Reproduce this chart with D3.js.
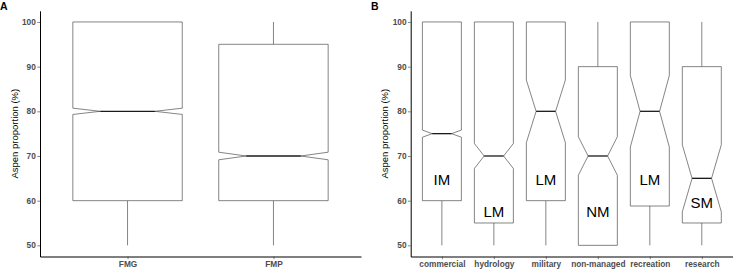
<!DOCTYPE html>
<html>
<head>
<meta charset="utf-8">
<script src="https://cdn.jsdelivr.net/npm/d3@7"></script>
<style>
  body { margin: 0; background: #fff; }
  svg { font-family: "Liberation Sans", Arial, sans-serif; }
</style>
</head>
<body>
<div id="chart"></div>
<script>
// panel A data
var groupsA = ["FMG", "FMP"];
var minA = [50, 50];
var q1A = [60, 60];
var medA = [80, 70];
var q3A = [100, 95];
var maxA = [100, 100];
var notchLoA = [79.3, 69.15];
var notchHiA = [80.7, 70.85];

// panel B data
var groupsB = ["commercial", "hydrology", "military", "non-managed", "recreation", "research"];
var minB = [50, 50, 50, 50, 50, 50];
var q1B = [60, 55, 60, 50, 58.8, 55];
var medB = [75, 70, 80, 70, 80, 65];
var q3B = [100, 100, 100, 90, 100, 90];
var maxB = [100, 100, 100, 100, 100, 100];
var notchLoB = [74.2, 67.2, 73, 65.7, 72, 57.5];
var notchHiB = [75.8, 72.8, 87, 74.3, 88, 72.5];
var lettersB = ["IM", "LM", "LM", "NM", "LM", "SM"];
var letterYB = [64.7, 57.6, 64.7, 57.6, 64.7, 59.6];

var yTicks = [50, 60, 70, 80, 90, 100];

var W = 733, H = 270;
var top1 = 10.8, bottom1 = 256.5;

var svg = d3.select("#chart").append("svg")
    .attr("width", W)
    .attr("height", H);

function drawPanel(opt) {
    var y = d3.scaleLinear()
        .domain([47.5, 102.5])
        .range([bottom1, top1]);

    var x = d3.scalePoint()
        .domain(opt.groups)
        .range([opt.x0, opt.x1])
        .padding(0.6);

    var bw = x.step() * 0.75;
    var g = svg.append("g");

    // whiskers
    opt.groups.forEach(function (d, i) {
        var cx = x(d);
        if (opt.max[i] > opt.q3[i]) {
            g.append("line")
                .attr("x1", cx).attr("x2", cx)
                .attr("y1", y(opt.q3[i])).attr("y2", y(opt.max[i]))
                .attr("stroke", "#333").attr("stroke-width", 0.6);
        }
        if (opt.min[i] < opt.q1[i]) {
            g.append("line")
                .attr("x1", cx).attr("x2", cx)
                .attr("y1", y(opt.q1[i])).attr("y2", y(opt.min[i]))
                .attr("stroke", "#333").attr("stroke-width", 0.6);
        }
    });

    // notched boxes
    opt.groups.forEach(function (d, i) {
        var xl = x(d) - bw / 2, xr = x(d) + bw / 2, inset = bw * 0.25;
        var pts = [
            [xl, y(opt.q3[i])],
            [xl, y(opt.hi[i])],
            [xl + inset, y(opt.med[i])],
            [xl, y(opt.lo[i])],
            [xl, y(opt.q1[i])],
            [xr, y(opt.q1[i])],
            [xr, y(opt.lo[i])],
            [xr - inset, y(opt.med[i])],
            [xr, y(opt.hi[i])],
            [xr, y(opt.q3[i])]
        ];
        g.append("path")
            .attr("d", d3.line()(pts) + "Z")
            .attr("fill", "#fff")
            .attr("stroke", "#333")
            .attr("stroke-width", 0.6);

        g.append("line")
            .attr("x1", xl + inset).attr("x2", xr - inset)
            .attr("y1", y(opt.med[i])).attr("y2", y(opt.med[i]))
            .attr("stroke", "#1a1a1a")
            .attr("stroke-width", 1.3);
    });

    // group letters
    if (opt.letters) {
        opt.groups.forEach(function (d, i) {
            g.append("text")
                .attr("x", x(d))
                .attr("y", y(opt.letterY[i]))
                .attr("text-anchor", "middle")
                .attr("dominant-baseline", "central")
                .attr("font-size", 15)
                .attr("fill", "#000")
                .text(opt.letters[i]);
        });
    }

    // axes
    var yAxis = g.append("g")
        .attr("transform", "translate(" + opt.x0 + ",0)")
        .call(d3.axisLeft(y).tickValues(yTicks).tickSize(2.7).tickSizeOuter(0).tickPadding(1.5));
    var xAxis = g.append("g")
        .attr("transform", "translate(0," + bottom1 + ")")
        .call(d3.axisBottom(x).tickSize(2.7).tickSizeOuter(0).tickPadding(1.5));

    [yAxis, xAxis].forEach(function (ax) {
        ax.select(".domain").attr("stroke", "#000").attr("stroke-width", 1);
        ax.selectAll(".tick line").attr("stroke", "#333").attr("stroke-width", 0.6);
        ax.selectAll(".tick text")
            .attr("font-family", "Liberation Sans, Arial, sans-serif")
            .attr("font-size", 8.3)
            .attr("font-weight", "bold")
            .attr("fill", "#4d4d4d");
    });

    // axis title
    g.append("text")
        .attr("transform", "translate(" + opt.titleX + "," + ((top1 + bottom1) / 2) + ") rotate(-90)")
        .attr("text-anchor", "middle")
        .attr("dominant-baseline", "central")
        .attr("font-size", 9.5)
        .attr("fill", "#000")
        .text("Aspen proportion (%)");

    // panel tag
    g.append("text")
        .attr("x", opt.tagX)
        .attr("y", 9.5)
        .attr("font-size", 10.5)
        .attr("font-weight", "bold")
        .attr("fill", "#000")
        .text(opt.tag);
}

drawPanel({
    groups: groupsA, min: minA, q1: q1A, med: medA, q3: q3A, max: maxA,
    lo: notchLoA, hi: notchHiA,
    x0: 40, x1: 361, titleX: 14, tagX: 0, tag: "A"
});

drawPanel({
    groups: groupsB, min: minB, q1: q1B, med: medB, q3: q3B, max: maxB,
    lo: notchLoB, hi: notchHiB, letters: lettersB, letterY: letterYB,
    x0: 410.7, x1: 733, titleX: 384.5, tagX: 371, tag: "B"
});
</script>
</body>
</html>
